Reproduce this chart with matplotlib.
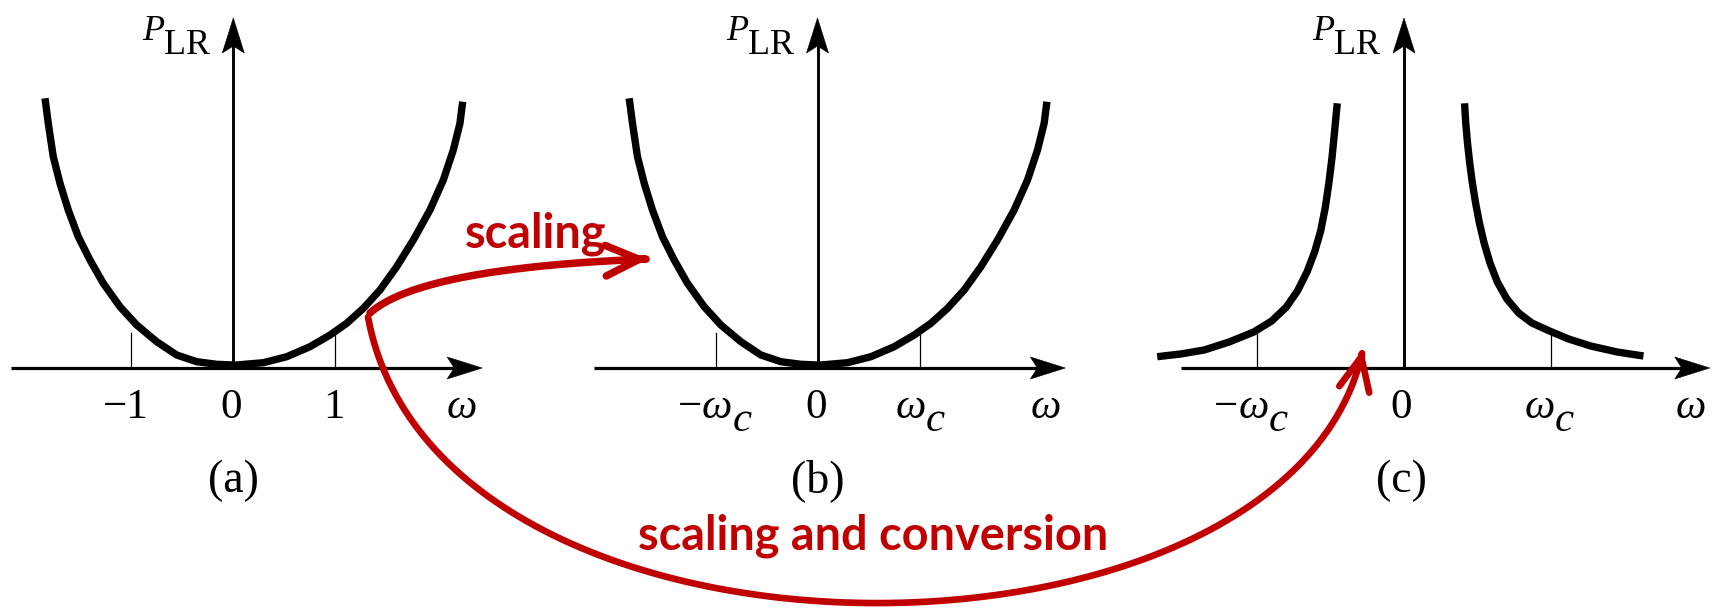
import numpy as np
import matplotlib
matplotlib.use("Agg")
import matplotlib.pyplot as plt
from matplotlib import transforms as mtransforms
from matplotlib.patches import Polygon, FancyArrowPatch
from matplotlib.path import Path

# ---------------- data ----------------
# (a) / (b): low-pass prototype response, omega in units of 1 (a) or omega_c (b)
omega_lp = [-1.846, -1.814, -1.765, -1.699, -1.618, -1.520, -1.405, -1.275, -1.111,
            -0.947, -0.751, -0.555, -0.359, -0.163, 0.0, 0.033, 0.294, 0.524, 0.752,
            0.948, 1.112, 1.275, 1.438, 1.602, 1.765, 1.928, 2.059, 2.157, 2.222, 2.249]
P_lp = [2.697, 2.447, 2.113, 1.847, 1.580, 1.313, 1.080, 0.847, 0.613,
        0.430, 0.263, 0.130, 0.063, 0.037, 0.030, 0.030, 0.053, 0.113, 0.213,
        0.330, 0.447, 0.597, 0.780, 1.013, 1.280, 1.580, 1.880, 2.180, 2.447, 2.663]

# (c): high-pass response, omega in units of omega_c
omega_hp_left = [-1.679, -1.520, -1.359, -1.190, -1.022, -0.900, -0.800, -0.725, -0.660,
                 -0.608, -0.567, -0.536, -0.511, -0.490, -0.472, -0.454]
P_hp_left = [0.113, 0.140, 0.180, 0.260, 0.360, 0.470, 0.610, 0.770, 0.960,
             1.160, 1.370, 1.600, 1.850, 2.100, 2.370, 2.647]
omega_hp_right = [0.412, 0.420, 0.432, 0.447, 0.465, 0.487, 0.513, 0.545, 0.585,
                  0.635, 0.700, 0.780, 0.870, 0.990, 1.120, 1.270, 1.450, 1.629]
P_hp_right = [2.647, 2.450, 2.250, 2.050, 1.850, 1.650, 1.450, 1.250, 1.050,
              0.860, 0.690, 0.550, 0.450, 0.370, 0.290, 0.220, 0.160, 0.120]

tick_positions = [-1, 0, 1]
panel_names = ["(a)", "(b)", "(c)"]
annot_small = "scaling"
annot_big = "scaling and conversion"

# ---------------- layout ----------------
W, H = 1717, 608
fig = plt.figure(figsize=(W / 100, H / 100), dpi=100)
renderer = fig.canvas.get_renderer()
RED = "#C00000"
SERIF = "Liberation Serif"
OY = 368      # pixel row of the omega axes
VS = 100.0    # pixels per P unit
CURVE_LW = 5.3


def make_panel(ox, unit):
    ax = fig.add_axes([0, 0, 1, 1])
    ax.set_xlim(-ox / unit, (W - ox) / unit)
    ax.set_ylim(-(H - OY) / VS, OY / VS)
    ax.axis("off")
    ax.patch.set_alpha(0)
    ax.unit = unit
    return ax


def arrow_head(ax, x, y, direction):
    L, Wd, N = 0.35, 0.11, 0.28
    if direction == "right":
        verts = [(0, 0), (-L, Wd), (-N, 0), (-L, -Wd)]
    else:
        verts = [(0, 0), (Wd, -L), (0, -N), (-Wd, -L)]
    tr = fig.dpi_scale_trans + mtransforms.ScaledTranslation(x, y, ax.transData)
    ax.add_patch(Polygon(verts, closed=True, transform=tr, facecolor="k",
                         edgecolor="k", lw=0.4, clip_on=False))


def draw_axes(ax, x_start, x_tip, y_tip):
    back = 25.0 / ax.unit
    ax.plot([x_start, x_tip - back], [0, 0], color="k", lw=2.3, solid_capstyle="butt")
    ax.plot([0, 0], [0, y_tip - 25.0 / VS], color="k", lw=2.1, solid_capstyle="butt")
    arrow_head(ax, x_tip, 0, "right")
    arrow_head(ax, 0, y_tip, "up")
    for t in tick_positions:
        if t != 0:
            ax.plot([t, t], [0, 0.35], color="k", lw=0.9)


def composed(ax, x, y, parts, size):
    arts, widths = [], []
    for s, style, dy in parts:
        t = ax.text(x, y, s, fontsize=size, fontfamily=SERIF, fontstyle=style,
                    ha="left", va="baseline", color="k")
        arts.append((t, dy))
        widths.append(t.get_window_extent(renderer).width)
    cum = -sum(widths) / 2
    for (t, dy), w in zip(arts, widths):
        t.set_transform(mtransforms.offset_copy(ax.transData, fig=fig, x=cum, y=dy, units="dots"))
        cum += w


NUM = 31
BASE = -0.50

# ---- panel (a)
axa = make_panel(233.3, 102.0)
draw_axes(axa, -2.18, 2.44, 3.50)
axa.plot(omega_lp, P_lp, color="k", lw=CURVE_LW, solid_capstyle="butt", solid_joinstyle="round")
composed(axa, -1.05, BASE, [("\u22121", "normal", 0)], NUM)
composed(axa, -0.02, BASE, [("0", "normal", 0)], NUM)
composed(axa, 0.99, BASE, [("1", "normal", 0)], NUM)
composed(axa, 2.24, BASE, [("\u03c9", "italic", 0)], NUM)
composed(axa, -0.56, 3.28, [("P", "italic", 0), ("LR", "normal", -14)], 26)
composed(axa, 0.0, -1.24, [(panel_names[0], "normal", 0)], 33)

# ---- panel (b)
axb = make_panel(817.5, 102.0)
draw_axes(axb, -2.19, 2.43, 3.50)
axb.plot(omega_lp, P_lp, color="k", lw=CURVE_LW, solid_capstyle="butt", solid_joinstyle="round")
composed(axb, -1.01, BASE, [("\u2212", "normal", 0), ("\u03c9", "italic", 0), ("c", "italic", -13)], NUM)
composed(axb, -0.015, BASE, [("0", "normal", 0)], NUM)
composed(axb, 1.01, BASE, [("\u03c9", "italic", 0), ("c", "italic", -13)], NUM)
composed(axb, 2.24, BASE, [("\u03c9", "italic", 0)], NUM)
composed(axb, -0.56, 3.28, [("P", "italic", 0), ("LR", "normal", -14)], 26)
composed(axb, 0.0, -1.24, [(panel_names[1], "normal", 0)], 33)

# ---- panel (c)
axc = make_panel(1404.0, 147.0)
draw_axes(axc, -1.52, 2.08, 3.50)
axc.plot(omega_hp_left, P_hp_left, color="k", lw=CURVE_LW, solid_capstyle="butt", solid_joinstyle="round")
axc.plot(omega_hp_right, P_hp_right, color="k", lw=CURVE_LW, solid_capstyle="butt", solid_joinstyle="round")
composed(axc, -1.04, BASE, [("\u2212", "normal", 0), ("\u03c9", "italic", 0), ("c", "italic", -13)], NUM)
composed(axc, -0.02, BASE, [("0", "normal", 0)], NUM)
composed(axc, 0.99, BASE, [("\u03c9", "italic", 0), ("c", "italic", -13)], NUM)
composed(axc, 1.95, BASE, [("\u03c9", "italic", 0)], NUM)
composed(axc, -0.395, 3.28, [("P", "italic", 0), ("LR", "normal", -14)], 26)
composed(axc, -0.02, -1.24, [(panel_names[2], "normal", 0)], 33)

# ---------------- red annotations (overlay in pixel space) ----------------
ov = fig.add_axes([0, 0, 1, 1])
ov.set_xlim(0, W)
ov.set_ylim(H, 0)
ov.axis("off")
ov.patch.set_alpha(0)


def bezier(ctrl, n=240):
    c = np.asarray(ctrl, float)
    t = np.linspace(0, 1, n)[:, None]
    if len(c) == 3:
        return (1 - t) ** 2 * c[0] + 2 * (1 - t) * t * c[1] + t ** 2 * c[2]
    return ((1 - t) ** 3 * c[0] + 3 * (1 - t) ** 2 * t * c[1]
            + 3 * (1 - t) * t ** 2 * c[2] + t ** 3 * c[3])


small_pts = bezier([(370, 313), (420, 268), (648, 259)])
big_pts = bezier([(368, 317), (438, 697), (1293, 689), (1363, 349)])

for pts, lw in ((small_pts, 5.4), (big_pts, 4.8)):
    arr = FancyArrowPatch(path=Path(pts), arrowstyle="->,head_length=24,head_width=11",
                          mutation_scale=1, lw=lw, color=RED, capstyle="round",
                          joinstyle="round")
    ov.add_patch(arr)

tb = ov.text(873.5, 550, annot_big, fontsize=30, fontfamily="Lato", fontweight="bold",
             color=RED, ha="center", va="baseline")
wb = tb.get_window_extent(renderer).width
fs = 30 * 470.0 / wb
tb.set_fontsize(fs)
ov.text(536, 247, annot_small, fontsize=fs, fontfamily="Lato", fontweight="bold",
        color=RED, ha="center", va="baseline")

fig.savefig("out.png", dpi=100)
